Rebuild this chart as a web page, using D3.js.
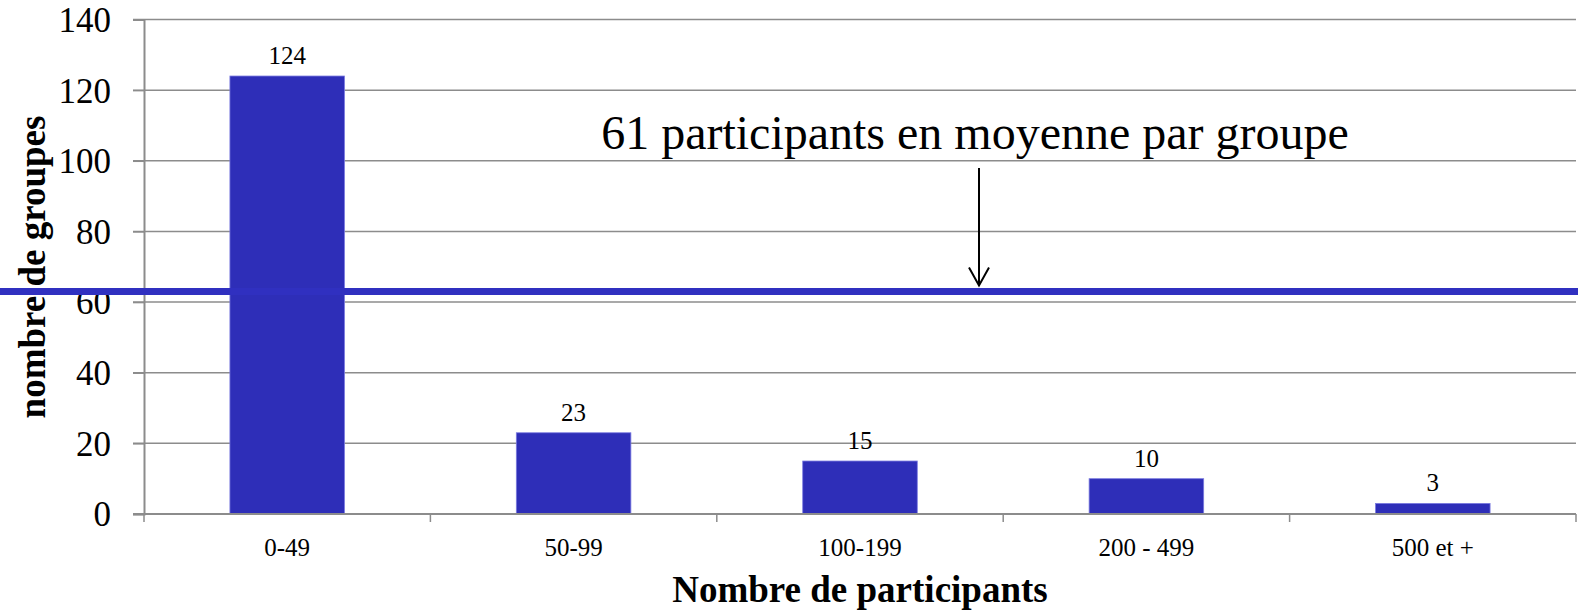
<!DOCTYPE html>
<html>
<head>
<meta charset="utf-8">
<script src="https://cdn.jsdelivr.net/npm/d3@7"></script>
<style>
    body { margin: 0; background: #fff; }
    svg text { font-family: "Liberation Serif", "Times New Roman", serif; fill: #000; }
</style>
</head>
<body>
<div id="chart"></div>
<script>
// data
const categories = ["0-49", "50-99", "100-199", "200 - 499", "500 et +"];
const groups = [124, 23, 15, 10, 3];
const yTicks = [0, 20, 40, 60, 80, 100, 120, 140];
const meanValue = 63;
const meanLabel = "61 participants en moyenne par groupe";
const xTitle = "Nombre de participants";
const yTitle = "nombre de groupes";

let width = 1578, height = 611;
let plotLeft = 144, plotRight = 1576, plotTop = 19.5, plotBottom = 514;
let barColor = "#2e2eb8", gridColor = "#8c8c8c";

var svg = d3.select("#chart")
    .append("svg")
    .attr("width", width)
    .attr("height", height);

var y = d3.scaleLinear().domain([0, 140]).range([plotBottom, plotTop]);
var x = d3.scaleBand().domain(categories).range([plotLeft, plotRight])
    .paddingInner(0.6).paddingOuter(0.3);

// gridlines
svg.append("g")
    .selectAll("line")
    .data(yTicks.filter(d => d > 0))
    .enter().append("line")
    .attr("x1", plotLeft - 11).attr("x2", plotRight)
    .attr("y1", d => y(d)).attr("y2", d => y(d))
    .attr("stroke", gridColor)
    .attr("stroke-width", 1.5);

// y axis
var yAxis = svg.append("g")
    .attr("transform", "translate(" + plotLeft + ",0)")
    .call(d3.axisLeft(y).tickValues(yTicks).tickSize(11).tickPadding(22));
yAxis.select(".domain").attr("stroke", gridColor).attr("stroke-width", 2);
yAxis.selectAll(".tick line").attr("stroke", gridColor).attr("stroke-width", 1.5);
yAxis.selectAll("text")
    .style("font-size", "35px")
    .attr("dy", "0.34em")
    .attr("fill", "#000");

// bars
svg.append("g")
    .selectAll("rect")
    .data(groups)
    .enter().append("rect")
    .attr("x", (d, i) => x(categories[i]))
    .attr("y", d => y(d))
    .attr("width", x.bandwidth())
    .attr("height", d => y(0) - y(d))
    .attr("fill", barColor)
    .attr("stroke", "#7b7be0")
    .attr("stroke-width", 0.8);

// value labels
svg.append("g")
    .selectAll("text")
    .data(groups)
    .enter().append("text")
    .attr("x", (d, i) => x(categories[i]) + x.bandwidth() / 2)
    .attr("y", d => y(d) - 12)
    .attr("text-anchor", "middle")
    .style("font-size", "25px")
    .text(d => d);

// x axis
var xAxis = svg.append("g");
xAxis.append("line")
    .attr("x1", plotLeft - 11).attr("x2", plotRight)
    .attr("y1", y(0)).attr("y2", y(0))
    .attr("stroke", gridColor).attr("stroke-width", 2);
xAxis.selectAll(".sep")
    .data(d3.range(categories.length + 1))
    .enter().append("line").attr("class", "sep")
    .attr("x1", i => plotLeft + i * x.step()).attr("x2", i => plotLeft + i * x.step())
    .attr("y1", y(0)).attr("y2", y(0) + 8)
    .attr("stroke", gridColor).attr("stroke-width", 1.5);
xAxis.selectAll(".cat")
    .data(categories)
    .enter().append("text").attr("class", "cat")
    .attr("x", d => x(d) + x.bandwidth() / 2)
    .attr("y", 556)
    .attr("text-anchor", "middle")
    .style("font-size", "25px")
    .text(d => d);

// mean line
svg.append("line")
    .attr("x1", 0).attr("x2", width)
    .attr("y1", y(meanValue)).attr("y2", y(meanValue))
    .attr("stroke", "#3030c0")
    .attr("stroke-width", 7);

// annotation + arrow
svg.append("text")
    .attr("x", 975).attr("y", 149)
    .attr("text-anchor", "middle")
    .style("font-size", "48px")
    .text(meanLabel);

let ax = 979, ay1 = 168, ay2 = y(meanValue) - 6;
svg.append("line")
    .attr("x1", ax).attr("x2", ax)
    .attr("y1", ay1).attr("y2", ay2)
    .attr("stroke", "#000").attr("stroke-width", 2);
svg.append("path")
    .attr("d", "M" + (ax - 10) + "," + (ay2 - 18) + "L" + ax + "," + ay2 + "L" + (ax + 10) + "," + (ay2 - 18))
    .attr("fill", "none")
    .attr("stroke", "#000").attr("stroke-width", 2);

// axis titles
svg.append("text")
    .attr("x", 860).attr("y", 602)
    .attr("text-anchor", "middle")
    .style("font-size", "37px")
    .style("font-weight", "bold")
    .text(xTitle);

svg.append("text")
    .attr("transform", "translate(45,267) rotate(-90)")
    .attr("text-anchor", "middle")
    .style("font-size", "37px")
    .style("font-weight", "bold")
    .text(yTitle);
</script>
</body>
</html>
